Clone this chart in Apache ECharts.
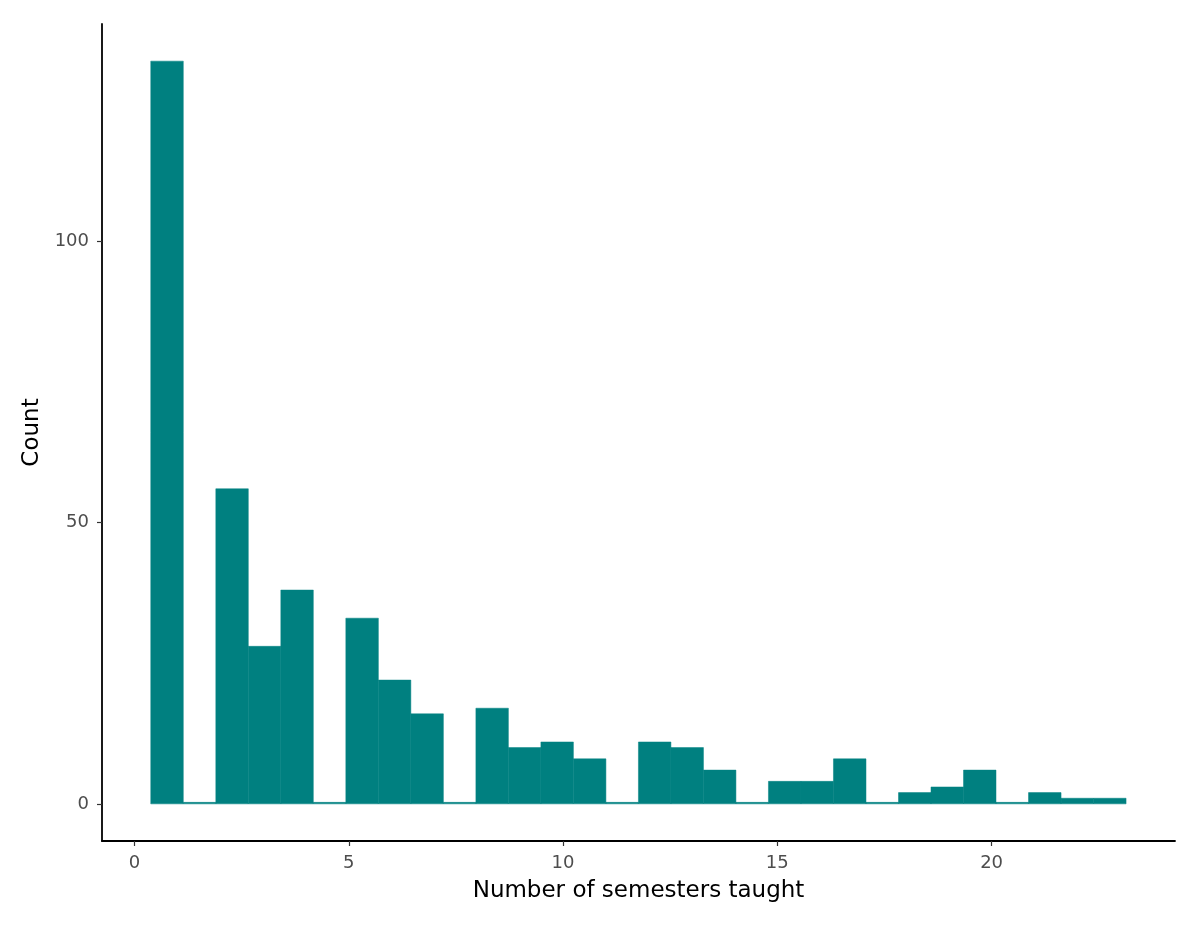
<!DOCTYPE html>
<html>
<head>
<meta charset="utf-8">
<script src="https://cdn.jsdelivr.net/npm/echarts@6/dist/echarts.min.js"></script>
<style>
  html, body { margin: 0; padding: 0; background: #fff; }
  #hist { width: 1200px; height: 935px; }
</style>
</head>
<body>
<div id="hist"></div>
<script>
// histogram bins (30 bins, edges in semesters)
const binEdges = [
    0.379, 1.138, 1.897, 2.655, 3.414, 4.172, 4.931, 5.690, 6.448, 7.207,
    7.966, 8.724, 9.483, 10.241, 11.000, 11.759, 12.517, 13.276, 14.034, 14.793,
    15.552, 16.310, 17.069, 17.828, 18.586, 19.345, 20.103, 20.862, 21.621, 22.379,
    23.138
];
const counts = [
    132, 0, 56, 28, 38, 0, 33, 22, 16, 0,
    17, 10, 11, 8, 0, 11, 10, 6, 0, 4,
    4, 8, 0, 2, 3, 6, 0, 2, 1, 1
];
const xTicks = [0, 5, 10, 15, 20];
const yTicks = [0, 50, 100];

const data = counts.map((c, i) => [binEdges[i], binEdges[i + 1], c]);

const font = 'DejaVu Sans, sans-serif';

option = {
    backgroundColor: 'white',
    animation: false,
    grid: {
        left: 102,
        right: 25,
        top: 24,
        bottom: 94,
    },
    xAxis: {
        type: 'value',
        min: -0.759,
        max: 24.28,
        name: 'Number of semesters taught',
        nameLocation: 'middle',
        nameGap: 39,
        nameTextStyle: {color: '#000', fontSize: 23, fontFamily: font},
        axisLine: {show: true, onZero: false, lineStyle: {color: '#000', width: 1.8}},
        axisTick: {show: true, length: 5, customValues: xTicks, lineStyle: {color: '#333', width: 1.2}},
        axisLabel: {customValues: xTicks, color: '#4d4d4d', fontSize: 18, fontFamily: font, margin: 13},
        splitLine: {show: false},
    },
    yAxis: {
        type: 'value',
        min: -6.6,
        max: 138.6,
        name: 'Count',
        nameLocation: 'middle',
        nameGap: 54,
        nameTextStyle: {color: '#000', fontSize: 23, fontFamily: font},
        axisLine: {show: true, onZero: false, lineStyle: {color: '#000', width: 1.8}},
        axisTick: {show: true, length: 5, customValues: yTicks, lineStyle: {color: '#333', width: 1.2}},
        axisLabel: {customValues: yTicks, color: '#4d4d4d', fontSize: 18, fontFamily: font, margin: 13},
        splitLine: {show: false},
    },
    series: [{
        type: 'custom',
        data,
        renderItem: function(params, api) {
            const p0 = api.coord([api.value(0), 0]);
            const p1 = api.coord([api.value(1), api.value(2)]);
            let h = p0[1] - p1[1];
            if (h < 1.5) h = 1.5;
            return {
                type: 'rect',
                shape: {x: p0[0], y: p0[1] - h, width: p1[0] - p0[0], height: h},
                style: {fill: '#008080', stroke: '#008080', lineWidth: 0.5},
            };
        },
    }],
};

dom = document.getElementById('hist');
chart = echarts.init(dom);
chart.setOption(option);
</script>
</body>
</html>
